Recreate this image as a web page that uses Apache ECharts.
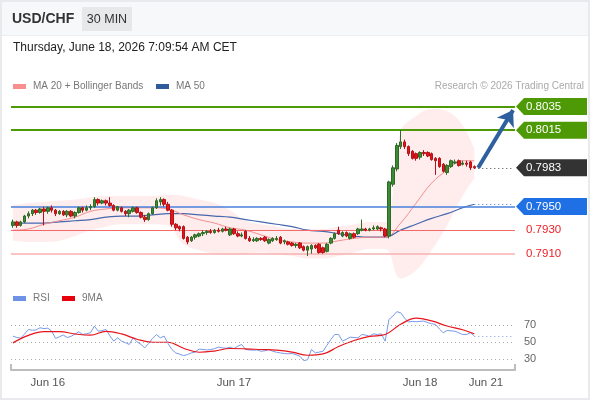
<!DOCTYPE html>
<html><head><meta charset="utf-8">
<script src="https://cdn.jsdelivr.net/npm/echarts@6/dist/echarts.min.js"></script>
<style>
html,body{margin:0;padding:0;background:#fff;}
#c{width:590px;height:400px;}
</style></head><body><div id="c"></div>
<script>
// ---------- DATA ----------
const opens = [0.7934,0.7937,0.7934,0.7937,0.7942,0.7944,0.7947,0.7945,0.7948,0.7946,
0.7949,0.7947,0.7944,0.7946,0.7943,0.7946,0.7942,0.7945,0.7949,0.7947,
0.7949,0.7950,0.7956,0.7953,0.7955,0.7953,0.7951,0.7947,0.7949,0.7946,
0.7944,0.7946,0.7949,0.7945,0.7941,0.7939,0.7944,0.7949,0.7954,0.7956,
0.7952,0.7947,0.7935,0.7933,0.7933,0.7924,0.7921,0.7924,0.7925,0.7927,
0.7928,0.7929,0.7928,0.7930,0.7929,0.7931,0.7926,0.7931,0.7927,0.7925,
0.7929,0.7923,0.7921,0.7921,0.7923,0.7924,0.7919,0.7921,0.7922,0.7924,
0.7920,0.7920,0.7919,0.7917,0.7919,0.7916,0.7913,0.7914,0.7917,0.7918,
0.7915,0.7912,0.7919,0.7923,0.7930,0.7925,0.7928,0.7923,0.7927,0.7927,
0.7930,0.7931,0.7930,0.7931,0.7931,0.7932,0.7931,0.7925,0.7969,0.7982,
0.8001,0.8005,0.8001,0.7997,0.7995,0.7992,0.7996,0.7996,0.7995,0.7991,
0.7991,0.7986,0.7979,0.7984,0.7987,0.7989,0.7986,0.7987,0.7988,0.7984];
const closes = [0.7937,0.7934,0.7937,0.7942,0.7944,0.7947,0.7945,0.7948,0.7946,0.7949,
0.7947,0.7944,0.7946,0.7943,0.7946,0.7942,0.7945,0.7949,0.7947,0.7949,
0.7950,0.7956,0.7953,0.7955,0.7953,0.7951,0.7947,0.7950,0.7946,0.7944,
0.7947,0.7949,0.7945,0.7941,0.7939,0.7944,0.7949,0.7955,0.7956,0.7952,
0.7947,0.7935,0.7932,0.7931,0.7923,0.7920,0.7924,0.7926,0.7927,0.7928,
0.7929,0.7928,0.7930,0.7929,0.7931,0.7930,0.7931,0.7927,0.7925,0.7926,
0.7923,0.7921,0.7922,0.7923,0.7922,0.7921,0.7922,0.7923,0.7923,0.7919,
0.7921,0.7918,0.7917,0.7918,0.7915,0.7913,0.7916,0.7917,0.7915,0.7911,
0.7911,0.7918,0.7923,0.7927,0.7927,0.7928,0.7925,0.7927,0.7924,0.7931,
0.7931,0.7930,0.7931,0.7932,0.7933,0.7931,0.7925,0.7971,0.7983,0.8002,
0.8005,0.8001,0.7995,0.7991,0.7991,0.7996,0.7995,0.7993,0.7990,0.7989,
0.7984,0.7980,0.7985,0.7989,0.7988,0.7985,0.7987,0.7986,0.7983,0.7983];
const highs = [0.7939,0.7938,0.7938,0.7943,0.7946,0.7948,0.7948,0.7949,0.7950,0.7950,
0.7951,0.7948,0.7947,0.7947,0.7947,0.7947,0.7946,0.7950,0.7950,0.7951,
0.7952,0.7958,0.7957,0.7956,0.7956,0.7958,0.7952,0.7950,0.7950,0.7947,
0.7948,0.7950,0.7950,0.7946,0.7943,0.7945,0.7950,0.7957,0.7958,0.7957,
0.7954,0.7948,0.7936,0.7934,0.7934,0.7925,0.7925,0.7927,0.7928,0.7930,
0.7930,0.7931,0.7931,0.7932,0.7932,0.7933,0.7932,0.7932,0.7929,0.7928,
0.7930,0.7925,0.7924,0.7924,0.7924,0.7925,0.7923,0.7924,0.7925,0.7925,
0.7922,0.7921,0.7920,0.7919,0.7920,0.7917,0.7917,0.7918,0.7918,0.7919,
0.7916,0.7919,0.7924,0.7928,0.7933,0.7929,0.7929,0.7928,0.7928,0.7932,
0.7939,0.7932,0.7932,0.7934,0.7934,0.7933,0.7932,0.7972,0.7985,0.8004,
0.8015,0.8007,0.8002,0.7998,0.7996,0.7997,0.7998,0.7997,0.7996,0.7992,
0.7992,0.7987,0.7986,0.7990,0.7990,0.7990,0.7989,0.7989,0.7989,0.7985];
const lows = [0.7932,0.7932,0.7933,0.7936,0.7940,0.7942,0.7943,0.7944,0.7934,0.7944,
0.7945,0.7942,0.7943,0.7942,0.7941,0.7941,0.7940,0.7944,0.7945,0.7946,
0.7947,0.7949,0.7951,0.7952,0.7951,0.7950,0.7946,0.7946,0.7945,0.7942,
0.7941,0.7945,0.7944,0.7940,0.7937,0.7938,0.7943,0.7948,0.7951,0.7950,
0.7946,0.7933,0.7930,0.7929,0.7922,0.7918,0.7920,0.7922,0.7924,0.7925,
0.7926,0.7927,0.7927,0.7928,0.7928,0.7929,0.7925,0.7926,0.7924,0.7924,
0.7922,0.7920,0.7920,0.7920,0.7921,0.7920,0.7918,0.7920,0.7921,0.7918,
0.7918,0.7917,0.7916,0.7915,0.7914,0.7912,0.7908,0.7910,0.7914,0.7910,
0.7910,0.7911,0.7918,0.7922,0.7926,0.7924,0.7924,0.7922,0.7923,0.7926,
0.7929,0.7929,0.7929,0.7930,0.7930,0.7929,0.7924,0.7923,0.7967,0.7980,
0.7999,0.7999,0.7993,0.7990,0.7989,0.7990,0.7993,0.7992,0.7989,0.7977,
0.7983,0.7979,0.7977,0.7983,0.7986,0.7984,0.7985,0.7984,0.7981,0.7982];

// indicator readings, sampled at these candle indices
const sampleIdx = [0,4,8,12,16,20,24,28,32,36,40,44,48,52,56,60,64,68,72,76,80,84,88,92,96,100,104,108,112,116,119];
const ma50 = [0.7936,0.7936,0.7936,0.7937,0.7938,0.7939,0.7941,0.7942,0.7942,0.7943,0.7944,0.7944,0.7943,0.7942,0.7941,0.7939,0.7937,0.7935,0.7933,0.7930,0.7929,0.7927,0.7925,0.7924,0.7924,0.7930,0.7935,0.7940,0.7944,0.7949,0.7952];
const ma20 = [0.7930,0.7931,0.7935,0.7938,0.7941,0.7946,0.7948,0.7949,0.7949,0.7949,0.7948,0.7943,0.7939,0.7936,0.7932,0.7930,0.7926,0.7922,0.7920,0.7919,0.7919,0.7921,0.7923,0.7924,0.7924,0.7936,0.7953,0.7970,0.7981,0.7989,0.7989];
const bbUpper = [0.7951,0.7953,0.7954,0.7955,0.7956,0.7958,0.7959,0.7959,0.7959,0.7959,0.7960,0.7959,0.7956,0.7953,0.7947,0.7938,0.7935,0.7933,0.7931,0.7931,0.7931,0.7933,0.7935,0.7937,0.7937,0.8014,0.8027,0.8033,0.8031,0.8019,0.7999];
const bbLower = [0.7921,0.7920,0.7920,0.7921,0.7925,0.7930,0.7933,0.7935,0.7935,0.7935,0.7934,0.7918,0.7913,0.7910,0.7909,0.7910,0.7911,0.7909,0.7908,0.7906,0.7906,0.7908,0.7911,0.7914,0.7914,0.7889,0.7896,0.7913,0.7934,0.7959,0.7974];

const rsi = [56.7,55,54.5,59,64.5,63.5,64,66.5,65.5,66,
62.5,54,56,58,55,56.5,59,61.8,58.6,59.5,
60.6,68.4,62.5,63,64.5,57,50.8,54.7,51,49,
46.9,54.7,50,47,43,48,54,58.6,54.7,56.7,
48,41,37,35.5,33.9,35,37,38,41.5,41,
40.5,41,42,43.7,43,42.5,43.7,42,44.9,46.9,
41,40.5,40.2,40.5,39,39.5,41,39,37.8,37,
36.3,36,36.3,35,33.1,28,29,41,37,38,
39,46,52.7,58.6,58.6,50.8,53,55.5,55,54.7,
58.6,57.8,56.5,59.4,58.5,59.4,50.8,76.3,80.2,85.3,
84.1,78,73.1,74,73.5,74,74.3,72.5,71.2,70.4,
65,60.6,63.3,62.8,62.5,60.6,58.5,58.6,60.6,57];
const rsi9 = [48.8,57.5,62,62,59.2,57.8,62.3,59.3,53,49.5,49.5,42.5,37.8,39.2,42.2,41.8,41,40.2,38,34.3,35.8,44.5,51.5,56.3,58.6,70.5,77.8,74.5,68.5,64.2,59.4];
const rsiLevels = [70, 50, 30];

const resistanceLevels = [0.8035, 0.8015];
const supportLevels = [0.7930, 0.7910];
const lastPrice = 0.7983;
const ma50Level = 0.7950;
const targetPrice = 0.8032;

const futureCategories = ['p1','p2','2026-06-21 00:00','p4','p5','p6','p7','p8','p9','p10'];
const monthNames = ['Jan','Feb','Mar','Apr','May','Jun','Jul','Aug','Sep','Oct','Nov','Dec'];

// ---------- BUILD ----------
const pad = n => (n < 10 ? '0' : '') + n;
const startTime = Date.UTC(2026, 5, 15, 19, 30);
const categories = closes.map((c, i) => {
  const d = new Date(startTime + i * 1800000);
  return d.getUTCFullYear() + '-' + pad(d.getUTCMonth() + 1) + '-' + pad(d.getUTCDate()) + ' ' + pad(d.getUTCHours()) + ':' + pad(d.getUTCMinutes());
});
const allCats = categories.concat(futureCategories);
const lastIdx = closes.length - 1;
const endIdx = allCats.length - 1;
const candleData = closes.map((c, i) => [opens[i], c, lows[i], highs[i]]);
const pairs = arr => arr.map((v, k) => [sampleIdx[k], v]);
const bandDiff = bbUpper.map((u, k) => +(u - bbLower[k]).toFixed(5));

const FONT = '"Liberation Sans", Arial, Helvetica, sans-serif';
const chart = echarts.init(document.getElementById('c'));

const option = {
  animation: false,
  textStyle: { fontFamily: FONT },
  grid: [
    { left: 11, right: 75, top: 96, height: 193 },
    { left: 11, right: 75, top: 300, height: 70 }
  ],
  xAxis: [
    { type: 'category', data: allCats, gridIndex: 0, show: false, boundaryGap: true },
    { type: 'category', data: allCats, gridIndex: 1, boundaryGap: true,
      axisLine: { lineStyle: { color: '#bdbdbd', width: 2 } },
      axisTick: { show: false },
      splitLine: { show: false },
      axisLabel: {
        interval: (i, v) => v.endsWith('00:00'),
        formatter: v => monthNames[+v.slice(5, 7) - 1] + ' ' + (+v.slice(8, 10)),
        color: '#555', fontSize: 11.5, margin: 7, fontFamily: FONT
      } }
  ],
  yAxis: [
    { gridIndex: 0, min: 0.7880, max: 0.8044, show: false },
    { gridIndex: 1, min: 17, max: 99, show: false }
  ],
  series: [
    { name: 'bbLower', type: 'line', data: pairs(bbLower), stack: 'bb', smooth: 0.4, symbol: 'none',
      lineStyle: { opacity: 0 }, silent: true, z: 1 },
    { name: 'bbFill', type: 'line', data: pairs(bandDiff), stack: 'bb', smooth: 0.4, symbol: 'none',
      lineStyle: { opacity: 0 }, areaStyle: { color: 'rgba(250,60,60,0.13)' }, silent: true, z: 1 },
    { name: 'MA 50', type: 'line', data: pairs(ma50), smooth: 0.4, symbol: 'none', z: 3,
      lineStyle: { color: '#4668ad', width: 1.2 },
      markLine: { silent: true, precision: 4, symbol: ['none', 'none'], label: { show: false }, animation: false,
        data: [
          { yAxis: resistanceLevels[0], lineStyle: { color: '#4e9a06', width: 2, type: 'solid' } },
          { yAxis: resistanceLevels[1], lineStyle: { color: '#4e9a06', width: 2, type: 'solid' } },
          { yAxis: ma50Level, lineStyle: { color: '#4a7fdc', width: 1.5, type: 'solid' } },
          { yAxis: supportLevels[0], lineStyle: { color: '#f26a6a', width: 1, type: 'solid' } },
          { yAxis: supportLevels[1], lineStyle: { color: '#f7b0b0', width: 1.5, type: 'solid' } }
        ] } },
    { name: 'MA 20', type: 'line', data: pairs(ma20), smooth: 0.4, symbol: 'none', z: 3,
      lineStyle: { color: '#f38c8c', width: 1 } },
    { name: 'USD/CHF', type: 'candlestick', data: candleData, barWidth: 3, z: 5,
      itemStyle: { color: '#3d8a34', borderColor: '#2c6a25', color0: '#e5141b', borderColor0: '#b51116', borderWidth: 1 },
      markLine: { silent: true, precision: 4, animation: false, label: { show: false },
        data: [
          [ { coord: [lastIdx, lastPrice], symbol: 'none' },
            { coord: [endIdx, lastPrice], symbol: 'none', lineStyle: { color: '#444', width: 1, type: [1, 3] } } ],
          [ { coord: [lastIdx, ma50[ma50.length - 1]], symbol: 'none' },
            { coord: [endIdx, ma50[ma50.length - 1]], symbol: 'none', lineStyle: { color: '#4a7fdc', width: 1, type: [1, 3] } } ],
          [ { coord: [lastIdx + 0.6, lastPrice], symbol: 'none' },
            { coord: [endIdx, targetPrice], symbol: 'arrow', symbolSize: 15, lineStyle: { color: '#2e5f9f', width: 4, type: 'solid' } } ]
        ] } },
    { name: 'RSI', type: 'line', xAxisIndex: 1, yAxisIndex: 1, data: rsi, symbol: 'none', z: 3,
      lineStyle: { color: '#7898e8', width: 1 },
      markLine: { silent: true, animation: false, symbol: ['none', 'none'],
        data: rsiLevels.map(v => ({ yAxis: v, lineStyle: { color: '#aaa', width: 1, type: [1, 3] },
            label: { show: true, position: 'end', formatter: String(v), color: '#666', fontSize: 11, distance: 9, fontFamily: FONT } }))
          .concat([[ { coord: [lastIdx, rsi[lastIdx]], symbol: 'none' },
                     { coord: [endIdx, rsi[lastIdx]], symbol: 'none', label: { show: false }, lineStyle: { color: '#7898e8', width: 1, type: [1, 3] } } ]]) } },
    { name: '9MA', type: 'line', xAxisIndex: 1, yAxisIndex: 1, data: pairs(rsi9), smooth: 0.4, symbol: 'none', z: 4,
      lineStyle: { color: '#e8141c', width: 1.2 } }
  ]
};
chart.setOption(option);

// ---------- GRAPHICS (header, legends, price tags) ----------
function tag(value, color) {
  const y = chart.convertToPixel({ yAxisIndex: 0 }, value);
  return [
    { type: 'polygon', z: 10, shape: { points: [[516, y], [524, y - 8.5], [587, y - 8.5], [587, y + 8.5], [524, y + 8.5]] }, style: { fill: color } },
    { type: 'text', z: 11, x: 526, y: y, style: { text: value.toFixed(4), fill: '#fff', font: '11.5px ' + FONT, verticalAlign: 'middle' } }
  ];
}
function plainTag(value, color) {
  const y = chart.convertToPixel({ yAxisIndex: 0 }, value);
  return [{ type: 'text', z: 11, x: 526, y: y, style: { text: value.toFixed(4), fill: color, font: '11.5px ' + FONT, verticalAlign: 'middle' } }];
}
const g = [
  { type: 'rect', z: -1, shape: { x: 0, y: 0, width: 590, height: 35 }, style: { fill: '#f7f8fa' } },
  { type: 'line', z: -1, shape: { x1: 0, y1: 35.5, x2: 590, y2: 35.5 }, style: { stroke: '#eceef1', lineWidth: 1 } },
  { type: 'rect', z: 20, shape: { x: 1, y: 1, width: 588, height: 398 }, style: { fill: 'none', stroke: '#e8eaed', lineWidth: 2 } },
  { type: 'text', x: 12, y: 19, style: { text: 'USD/CHF', font: 'bold 14px ' + FONT, fill: '#333', verticalAlign: 'middle' } },
  { type: 'rect', shape: { x: 82, y: 7, width: 50, height: 24 }, style: { fill: '#e7e8ea' } },
  { type: 'text', x: 107, y: 19.5, style: { text: '30 MIN', font: '12.5px ' + FONT, fill: '#333', align: 'center', verticalAlign: 'middle' } },
  { type: 'text', x: 13, y: 48, style: { text: 'Thursday, June 18, 2026 7:09:54 AM CET', font: '12px ' + FONT, fill: '#222', verticalAlign: 'middle' } },
  { type: 'rect', shape: { x: 13, y: 84, width: 13, height: 5 }, style: { fill: '#f88e8e' } },
  { type: 'text', x: 33, y: 86.5, style: { text: 'MA 20 + Bollinger Bands', font: '10px ' + FONT, fill: '#777', verticalAlign: 'middle' } },
  { type: 'rect', shape: { x: 156, y: 84, width: 13, height: 5 }, style: { fill: '#2f5b9a' } },
  { type: 'text', x: 176, y: 86.5, style: { text: 'MA 50', font: '10px ' + FONT, fill: '#777', verticalAlign: 'middle' } },
  { type: 'text', x: 584, y: 86.5, style: { text: 'Research \u00a9 2026 Trading Central', font: '10px ' + FONT, fill: '#aaa', align: 'right', verticalAlign: 'middle' } },
  { type: 'rect', shape: { x: 13, y: 296, width: 13, height: 5 }, style: { fill: '#6e92e6' } },
  { type: 'text', x: 33, y: 298.5, style: { text: 'RSI', font: '10px ' + FONT, fill: '#777', verticalAlign: 'middle' } },
  { type: 'rect', shape: { x: 62, y: 296, width: 13, height: 5 }, style: { fill: '#e8000b' } },
  { type: 'text', x: 82, y: 298.5, style: { text: '9MA', font: '10px ' + FONT, fill: '#777', verticalAlign: 'middle' } },
  { type: 'line', shape: { x1: 11, y1: 370, x2: 11, y2: 364 }, style: { stroke: '#bdbdbd', lineWidth: 2 } },
  { type: 'line', shape: { x1: 515, y1: 370, x2: 515, y2: 364 }, style: { stroke: '#bdbdbd', lineWidth: 2 } }
]
  .concat(tag(resistanceLevels[0], '#4e9a06'))
  .concat(tag(resistanceLevels[1], '#4e9a06'))
  .concat(tag(lastPrice, '#333333'))
  .concat(tag(ma50Level, '#1f6fe5'))
  .concat(plainTag(supportLevels[0], '#ee1c24'))
  .concat(plainTag(supportLevels[1], '#ee1c24'));
chart.setOption({ graphic: g });
</script></body></html>
